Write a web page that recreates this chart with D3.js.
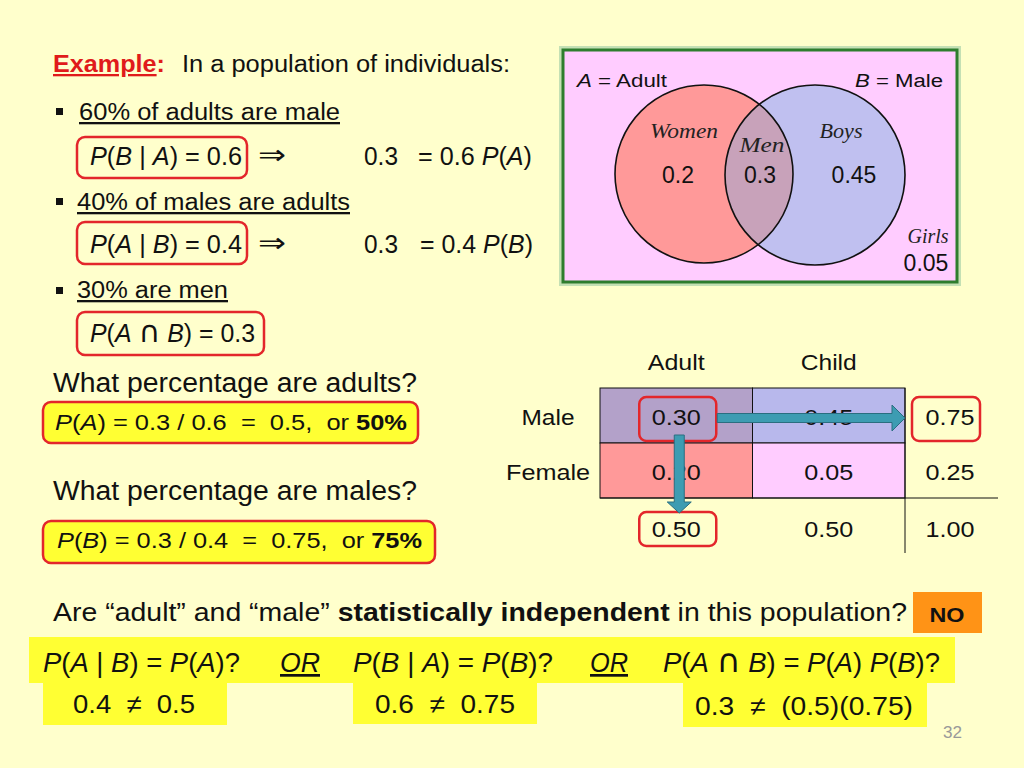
<!DOCTYPE html>
<html><head><meta charset="utf-8">
<script src="https://cdn.jsdelivr.net/npm/d3@7"></script>
<style>html,body{margin:0;padding:0;background:#FFFFCC;} svg{display:block;} text{white-space:pre;}</style>
</head><body>
<div id="chart"></div>
<script>
// ---------- data ----------
const vennLabels = ["Women", "Men", "Boys", "Girls"];
const vennValues = [0.2, 0.3, 0.45, 0.05];
const setNames = ["Adult", "Male"];
const tableCols = ["Adult", "Child"];
const tableRows = ["Male", "Female"];
const tableValues = [[0.30, 0.45], [0.20, 0.05]];
const rowTotals = [0.75, 0.25];
const colTotals = [0.50, 0.50];
const grandTotal = [1.00];
const givenProbs = [0.6, 0.4, 0.3];      // P(B|A), P(A|B), P(A∩B)
const answers = [0.5, 0.75];             // P(A), P(B)
const pageNumber = ["32"];

// ---------- setup ----------
const W = 1024, H = 768;
const svg = d3.select("#chart").append("svg").attr("width", W).attr("height", H);
svg.append("rect").attr("width", W).attr("height", H).attr("fill", "#FFFFCC");
const SANS = "'Liberation Sans', Arial, sans-serif";
const DJ = "'DejaVu Sans', sans-serif";
const RED = "#E3262B";
const YEL = "#FFFF33";

function rich(parent, x, y, markup, o) {
  const t = parent.append("text").attr("x", x).attr("y", y)
    .attr("font-size", o.size).attr("fill", o.fill || "#111")
    .attr("font-family", o.family || SANS);
  if (o.anchor) t.attr("text-anchor", o.anchor);
  let it = false, b = false, u = false, buf = "";
  const flush = (special) => {
    if (!buf) return;
    const s = t.append("tspan").text(buf);
    if (it) s.attr("font-style", "italic");
    if (b) s.attr("font-weight", "bold");
    if (u) s.style("text-decoration", "underline");
    if (special) s.attr("font-family", DJ).attr("font-style", "normal").attr("font-size", o.size * 1.2);
    buf = "";
  };
  for (const ch of markup) {
    if (ch === "_") { flush(); it = !it; }
    else if (ch === "*") { flush(); b = !b; }
    else if (ch === "~") { flush(); u = !u; }
    else if (ch === "∩") { flush(); buf = ch; flush(true); }
    else buf += ch;
  }
  flush();
  if (o.w) t.attr("textLength", o.w).attr("lengthAdjust", "spacingAndGlyphs");
  return t;
}
function box(parent, x, y, w, h, o) {
  return parent.append("rect").attr("x", x).attr("y", y).attr("width", w).attr("height", h)
    .attr("rx", o.r == null ? 8 : o.r).attr("fill", o.fill || "none")
    .attr("stroke", o.stroke || "none").attr("stroke-width", o.sw || 2.5);
}
const f = d3.format(".2f");

// ---------- top-left text ----------
const L = svg.append("g");
rich(L, 53, 72, "*~Example~:*", {size: 23, fill: "#E01B1B", w: 112});
rich(L, 182, 72, "In a population of individuals:", {size: 23, w: 328});
[108, 198, 287].forEach(y => L.append("rect").attr("x", 56).attr("y", y).attr("width", 7).attr("height", 7).attr("fill", "#111"));

const givenLines = [
  {txt: "~60% of adults are male~", y: 120, x: 79, w: 261},
  {txt: "~40% of males are adults~", y: 210, x: 77, w: 273},
  {txt: "~30% are men~", y: 298, x: 77, w: 151}
];
givenLines.forEach(d => rich(L, d.x, d.y, d.txt, {size: 23, w: d.w}));

const formulas = [
  {txt: "_P_(_B_ | _A_) = " + givenProbs[0], y: 165, bx: 77, by: 137, bw: 170, bh: 41, w: 152},
  {txt: "_P_(_A_ | _B_) = " + givenProbs[1], y: 253, bx: 77, by: 222, bw: 170, bh: 42, w: 152},
  {txt: "_P_(_A_ ∩ _B_) = " + givenProbs[2], y: 342, bx: 77, by: 312, bw: 187, bh: 43, w: 165}
];
formulas.forEach(d => {
  box(L, d.bx, d.by, d.bw, d.bh, {stroke: RED});
  rich(L, 90, d.y, d.txt, {size: 25, w: d.w});
});
// implications
[{y: 165, rhs: "= " + givenProbs[0] + " _P_(_A_)", x: 418, w: 114},
 {y: 253, rhs: "= " + givenProbs[1] + " _P_(_B_)", x: 420, w: 113}].forEach(d => {
  rich(L, 258, d.y - 1, "⇒", {size: 27, family: DJ, w: 28});
  rich(L, 364, d.y, String(givenProbs[2]), {size: 25, w: 34});
  rich(L, d.x, d.y, d.rhs, {size: 25, w: d.w});
});

// questions
rich(L, 53, 392, "What percentage are adults?", {size: 27, w: 364});
box(L, 43, 402, 375, 41, {fill: YEL, stroke: RED});
rich(L, 55, 430, "_P_(_A_) = 0.3 / 0.6  =  " + answers[0] + ",  or *" + (answers[0] * 100) + "%*", {size: 22, w: 352});
rich(L, 53, 500, "What percentage are males?", {size: 27, w: 364});
box(L, 43, 521, 392, 42, {fill: YEL, stroke: RED});
rich(L, 57, 548, "_P_(_B_) = 0.3 / 0.4  =  " + answers[1] + ",  or *" + (answers[1] * 100) + "%*", {size: 22, w: 365});

// ---------- Venn diagram ----------
const V = svg.append("g");
V.append("rect").attr("x", 560.5).attr("y", 47.5).attr("width", 399).attr("height", 237)
  .attr("fill", "none").attr("stroke", "#C4E0B4").attr("stroke-width", 3);
V.append("rect").attr("x", 563).attr("y", 50).attr("width", 394).attr("height", 232)
  .attr("fill", "#FFCCFF").attr("stroke", "#2E7D2E").attr("stroke-width", 3);
const cA = {cx: 704, cy: 174, r: 89};
const cB = {cx: 815, cy: 175, r: 90};
const defs = svg.append("defs");
defs.append("clipPath").attr("id", "clipA").append("circle")
  .attr("cx", cA.cx).attr("cy", cA.cy).attr("r", cA.r);
V.append("circle").attr("cx", cA.cx).attr("cy", cA.cy).attr("r", cA.r).attr("fill", "#FF9999");
V.append("circle").attr("cx", cB.cx).attr("cy", cB.cy).attr("r", cB.r).attr("fill", "#C0C0F0");
V.append("circle").attr("cx", cB.cx).attr("cy", cB.cy).attr("r", cB.r)
  .attr("fill", "#C8A2BA").attr("clip-path", "url(#clipA)");
[cA, cB].forEach(c => V.append("circle").attr("cx", c.cx).attr("cy", c.cy).attr("r", c.r)
  .attr("fill", "none").attr("stroke", "#111").attr("stroke-width", 1.6));
rich(V, 577, 87, "_A_ = " + setNames[0], {size: 18, w: 90});
rich(V, 855, 87, "_B_ = " + setNames[1], {size: 18, w: 88});
const SCRIPT = "'Liberation Serif', 'DejaVu Serif', serif";
const vennPos = [
  {lx: 684, ly: 138, lw: 68, vx: 678, vy: 183},
  {lx: 762, ly: 152, lw: 45, vx: 760, vy: 183},
  {lx: 841, ly: 138, lw: 43, vx: 854, vy: 183},
  {lx: 928, ly: 243, lw: 41, vx: 926, vy: 271}
];
vennLabels.forEach((lab, i) => {
  const p = vennPos[i];
  V.append("text").attr("x", p.lx).attr("y", p.ly).attr("text-anchor", "middle")
    .attr("font-family", SCRIPT).attr("font-style", "italic").attr("font-size", 20).attr("fill", "#222")
    .attr("textLength", p.lw).attr("lengthAdjust", "spacingAndGlyphs").text(lab);
  V.append("text").attr("x", p.vx).attr("y", p.vy).attr("text-anchor", "middle")
    .attr("font-family", SANS).attr("font-size", 23).attr("fill", "#111").text(String(vennValues[i]));
});

// ---------- contingency table ----------
const T = svg.append("g");
const x = d3.scaleBand().domain(tableCols).range([600, 905]);
const y = d3.scaleBand().domain(tableRows.concat(["Total"])).range([388, 553]);
const cellFill = [["#B3A1C9", "#B8B8EC"], ["#FF9999", "#FFCCFF"]];
tableRows.forEach((r, i) => tableCols.forEach((c, j) => {
  T.append("rect").attr("x", x(c)).attr("y", y(r)).attr("width", x.bandwidth()).attr("height", y.bandwidth())
    .attr("fill", cellFill[i][j]).attr("stroke", "#111").attr("stroke-width", 1);
}));
T.append("line").attr("x1", 600).attr("x2", 998).attr("y1", y("Total")).attr("y2", y("Total")).attr("stroke", "#111");
T.append("line").attr("x1", 905).attr("x2", 905).attr("y1", 388).attr("y2", 553).attr("stroke", "#111");
const totX = 950;
const VW = 49;
tableCols.forEach((c, j) => rich(T, x(c) + x.bandwidth() / 2, 370, c, {size: 22, anchor: "middle", w: [57, 56][j]}));
tableRows.forEach((r, i) => rich(T, 548, y(r) + 37, r, {size: 22, anchor: "middle", w: [53, 84][i]}));
tableRows.forEach((r, i) => {
  tableCols.forEach((c, j) => rich(T, x(c) + x.bandwidth() / 2, y(r) + 37, f(tableValues[i][j]), {size: 22, anchor: "middle", w: VW}));
  rich(T, totX, y(r) + 37, f(rowTotals[i]), {size: 22, anchor: "middle", w: VW});
});
tableCols.forEach((c, j) => rich(T, x(c) + x.bandwidth() / 2, y("Total") + 39, f(colTotals[j]), {size: 22, anchor: "middle", w: VW}));
rich(T, totX, y("Total") + 39, f(grandTotal[0]), {size: 22, anchor: "middle", w: VW});

// highlight boxes
const xc = x("Adult") + x.bandwidth() / 2;
box(T, xc - 37, y("Male") + 9, 77, 44, {stroke: RED, r: 7});
box(T, totX - 38, y("Male") + 9, 68, 44, {stroke: RED, r: 7});
box(T, xc - 37, y("Total") + 14, 77, 34, {stroke: RED, r: 7});

// arrows
const AR = "#3D9CB2", ARS = "#2A6E80";
const hy = y("Male") + 30;
const hx0 = xc + 41, hx1 = x("Child") + x.bandwidth();
T.append("path").attr("d", `M${hx0},${hy - 4.5} L${hx1 - 13},${hy - 4.5} L${hx1 - 13},${hy - 13} L${hx1},${hy} L${hx1 - 13},${hy + 13} L${hx1 - 13},${hy + 4.5} L${hx0},${hy + 4.5} Z`)
  .attr("fill", AR).attr("stroke", ARS).attr("stroke-width", 1);
const vx = xc + 3, vy0 = y("Male") + 47, vy1 = y("Total") + 15;
T.append("path").attr("d", `M${vx - 5},${vy0} L${vx + 5},${vy0} L${vx + 5},${vy1 - 11} L${vx + 12},${vy1 - 11} L${vx},${vy1} L${vx - 12},${vy1 - 11} L${vx - 5},${vy1 - 11} Z`)
  .attr("fill", AR).attr("stroke", ARS).attr("stroke-width", 1);

// ---------- bottom ----------
const B = svg.append("g");
rich(B, 53, 621, "Are “adult” and “male” *statistically independent* in this population?", {size: 25, w: 854});
B.append("rect").attr("x", 913).attr("y", 592).attr("width", 69).attr("height", 41).attr("fill", "#FF9316");
rich(B, 947, 622, "*NO*", {size: 21, anchor: "middle", w: 35});
B.append("rect").attr("x", 29).attr("y", 637).attr("width", 926).attr("height", 46).attr("fill", YEL);
const tests = [
  {txt: "_P_(_A_ | _B_) = _P_(_A_)?", x: 43, w: 197},
  {txt: "_~OR~_", x: 280, w: 40},
  {txt: "_P_(_B_ | _A_) = _P_(_B_)?", x: 353, w: 200},
  {txt: "_~OR~_", x: 590, w: 38},
  {txt: "_P_(_A_ ∩ _B_) = _P_(_A_) _P_(_B_)?", x: 663, w: 277}
];
tests.forEach(d => rich(B, d.x, 672, d.txt, {size: 27, w: d.w}));
const checks = [
  {txt: givenProbs[1] + "  ≠  " + answers[0], bx: 43, bw: 184, bh: 43, tx: 73, ty: 713, w: 122},
  {txt: givenProbs[0] + "  ≠  " + answers[1], bx: 353, bw: 184, bh: 42, tx: 375, ty: 713, w: 140},
  {txt: givenProbs[2] + "  ≠  (" + answers[0] + ")(" + answers[1] + ")", bx: 683, bw: 244, bh: 45, tx: 695, ty: 715, w: 218}
];
checks.forEach(d => {
  B.append("rect").attr("x", d.bx).attr("y", 682).attr("width", d.bw).attr("height", d.bh).attr("fill", YEL);
  rich(B, d.tx, d.ty, d.txt, {size: 26, w: d.w});
});
rich(B, 943, 738, pageNumber[0], {size: 16, fill: "#999", w: 19});
</script>
</body></html>
